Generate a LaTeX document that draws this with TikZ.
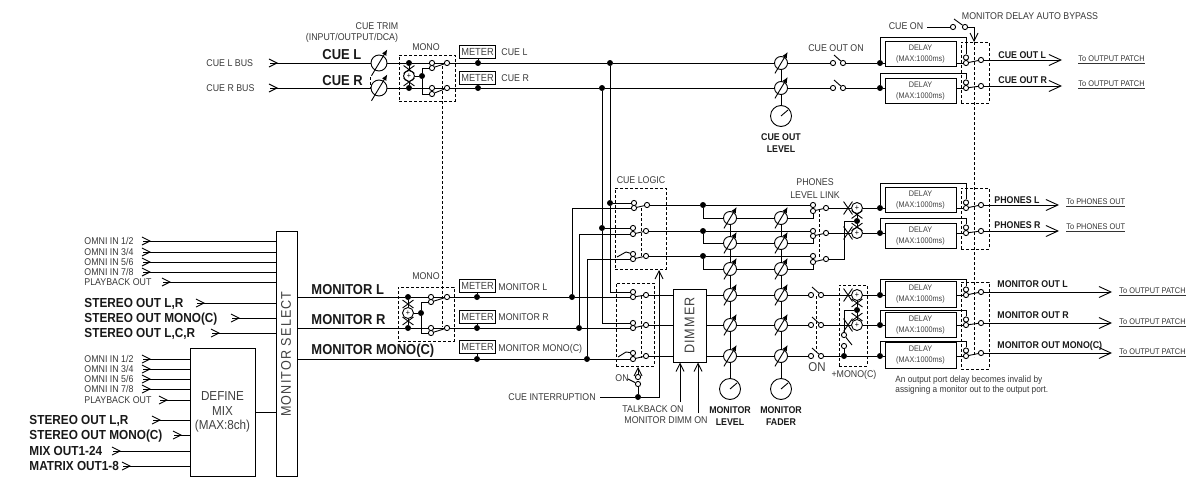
\documentclass[tikz,border=0pt]{standalone}
\usepackage{fontspec}
\setmainfont[FakeStretch=0.9]{Liberation Sans}
\newfontfamily\widefont[FakeStretch=0.9,LetterSpace=8]{Liberation Sans}
\usepackage{tikz}
\usetikzlibrary{arrows.meta, shapes.misc}

\tikzset{
    lbl/.style={font=\fontsize{9.8}{11}\selectfont, text=black!78, inner sep=0pt, text height=7pt, text depth=0pt},
    blbl/.style={font=\bfseries\fontsize{9.8}{11}\selectfont, text=black!90, inner sep=0pt, text height=7pt, text depth=0pt},
    mlbl/.style={font=\bfseries\fontsize{13.1}{14}\selectfont, text=black!90, inner sep=0pt, text height=9.4pt, text depth=0pt},
    hlbl/.style={font=\bfseries\fontsize{14.4}{15}\selectfont, text=black!90, inner sep=0pt, text height=10.3pt, text depth=0pt},
    plbl/.style={font=\fontsize{8.2}{9}\selectfont, text=black!80, inner sep=0pt},
    dot/.style={circle, fill=black, inner sep=0pt, minimum size=6pt},
    cnt/.style={circle, draw, fill=white, inner sep=0pt, minimum size=5.2pt},
    fad/.style={circle, draw, fill=white, inner sep=0pt},
    sumnode/.style={circle, draw, fill=white, inner sep=0pt, minimum size=11pt, font=\fontsize{8}{8}\selectfont},
    xv/.style={cross out, draw, inner sep=0pt, minimum width=10pt, minimum height=7pt},
    xh/.style={cross out, draw, inner sep=0pt, minimum width=8pt, minimum height=12pt},
    dbox/.style={draw, dash pattern=on 3pt off 2pt, inner sep=0pt},
    dctl/.style={dash pattern=on 3pt off 2pt},
    dly/.style={draw, line width=1pt, minimum width=71pt, minimum height=25.5pt, inner sep=0pt, align=center, text=black!75, font=\fontsize{8.1}{11}\selectfont},
    meter/.style={draw, minimum width=36pt, minimum height=13pt, inner sep=0pt, text=black!75, font=\fontsize{10.3}{11}\selectfont},
    barb/.style={-{Straight Barb[length=8pt,width=8pt]}},
    bigbarb/.style={-{Straight Barb[length=12pt,width=11pt]}},
    every path/.style={line width=0.9pt}
}

% input line with its chevron
\newcommand{\inrow}[7][lbl]{
    \node[#1, anchor=west] (#2l) at (#3,#4) {#5};
    \coordinate (#2a) at (#6,#4);
    \coordinate (#2t) at (#6+8,#4);
    \draw[barb] (#2a) -- (#2t);
    \draw (#2a) -- (#7 |- #2a);
}
% fader: size, name, x, y
\newcommand{\fader}[4][13]{
    \node[fad, minimum size=#1pt] (#2) at (#3,#4) {};
    \draw[-{Latex[length=6pt,width=5pt]}] ([shift={(-.47*#1,.8*#1)}]#2.center) -- ([shift={(.52*#1,-.85*#1)}]#2.center);
}
\newcommand{\knob}[3]{
    \node[fad, minimum size=21pt] (#1) at (#2,#3) {};
    \draw (#1.center) -- ([shift={(7,-6)}]#1.center);
}
% selector: name, x, upper y, lower y, out x, out y
\newcommand{\selsw}[6]{
    \node[cnt] (#1a) at (#2,#3) {};
    \node[cnt] (#1b) at (#2,#4) {};
    \node[cnt] (#1o) at (#5,#6) {};
    \draw (#1b) -- (#1o);
}
% on/off switch: name, x, x, y
\newcommand{\onsw}[4]{
    \node[cnt] (#1a) at (#2,#4) {};
    \node[cnt] (#1b) at (#3,#4) {};
    \draw ([shift={(1,-8)}]#1a.center) -- (#1b);
}
% delay stage: name, y, box y, bypass y, out y
\newcommand{\dlyrow}[5]{
    \node[dot] (#1d) at (880,#2) {};
    \node[dly] (#1box) at (920.5,#3) {DELAY\\(MAX:1000ms)};
    \coordinate (#1by) at (966,#4);
    \node[cnt] (#1a) at (966,#2-5.5) {};
    \node[cnt] (#1b) at (966,#2) {};
    \node[cnt] (#1o) at (981,#5) {};
    \draw (#1d) -- (#1box.west |- #1d);
    \draw (#1box.east |- #1b) -- (#1b);
    \draw (#1d) |- (#1by) -- (#1a);
    \draw (#1b) -- (#1o);
}

\begin{document}
\begin{tikzpicture}[x=1pt, y=-1pt]
    \useasboundingbox (0,0) rectangle (1198,479);

    % main boxes
    \node[draw, minimum width=21pt, minimum height=245pt, inner sep=0pt] (select) at (286.5,353.5) {};
    \node[rotate=90, inner sep=0pt, text=black!75, font=\widefont\fontsize{14}{14}\selectfont] (selecttxt) at (286,354) {MONITOR SELECT};
    \node[draw, minimum width=65pt, minimum height=128pt, inner sep=0pt, align=center, text=black!75, font=\fontsize{13}{14.5}\selectfont] (define) at (222.5,412) {DEFINE\\MIX\\(MAX:8ch)};
    \node[draw, line width=1pt, minimum width=33pt, minimum height=73pt, inner sep=0pt] (dimmer) at (689.5,325.5) {};
    \node[rotate=90, inner sep=0pt, text=black!75, font=\widefont\fontsize{14}{14}\selectfont] (dimmertxt) at (689.5,325.5) {DIMMER};

    % inputs of monitor select
    \inrow{oa}{84}{241}{OMNI IN 1/2}{143}{select.west}
    \inrow{ob}{84}{252}{OMNI IN 3/4}{143}{select.west}
    \inrow{oc}{84}{262}{OMNI IN 5/6}{143}{select.west}
    \inrow{od}{84}{272}{OMNI IN 7/8}{143}{select.west}
    \inrow{oe}{84}{282}{PLAYBACK OUT}{163}{select.west}
    \inrow[mlbl]{sa}{84}{303}{STEREO OUT L,R}{197}{select.west}
    \inrow[mlbl]{sb}{84}{318}{STEREO OUT MONO(C)}{232}{select.west}
    \inrow[mlbl]{sc}{84}{333}{STEREO OUT L,C,R}{212}{select.west}

    % inputs of define mix
    \inrow{da}{84}{359}{OMNI IN 1/2}{143}{define.west}
    \inrow{db}{84}{369}{OMNI IN 3/4}{143}{define.west}
    \inrow{dc}{84}{379}{OMNI IN 5/6}{143}{define.west}
    \inrow{dd}{84}{389}{OMNI IN 7/8}{143}{define.west}
    \inrow{de}{84}{400}{PLAYBACK OUT}{160}{define.west}
    \inrow[mlbl]{df}{29}{420}{STEREO OUT L,R}{153}{define.west}
    \inrow[mlbl]{dg}{29}{435}{STEREO OUT MONO(C)}{174}{define.west}
    \inrow[mlbl]{dh}{29}{451}{MIX OUT1-24}{113}{define.west}
    \inrow[mlbl]{di}{29}{466}{MATRIX OUT1-8}{123}{define.west}
    \draw (define.east) -- (select.west |- define.east);

    % cue input
    \fader[16]{ftl}{379}{63}
    \fader[16]{ftr}{379}{88}
    \coordinate (trima) at (370,77);
    \coordinate (trimb) at (370,88);
    \draw[dctl] (trima) -- (trimb);
    \inrow{cl}{206}{63}{CUE L BUS}{270}{ftl.west}
    \inrow{cr}{206}{88}{CUE R BUS}{270}{ftr.west}
    \node[lbl] (cuetrim) at (377,26) {CUE TRIM};
    \node[lbl] (cuetrimb) at (352,37) {(INPUT/OUTPUT/DCA)};
    \node[hlbl, anchor=west] (cuel) at (322,54) {CUE L};
    \node[hlbl, anchor=west] (cuer) at (322,80) {CUE R};

    % cue mono
    \node[dbox, minimum width=56pt, minimum height=46pt] (cmbox) at (427,78) {};
    \node[lbl] (cmlbl) at (426,47) {MONO};
    \node[dot] (cmdl) at (409,63) {};
    \node[dot] (cmdr) at (409,88) {};
    \node[sumnode] (cms) at (409,76) {+};
    \node[xv] (cmxl) at (409,69.5) {};
    \node[xv] (cmxr) at (409,82) {};
    \node[dot] (cmj) at (422,76) {};
    \selsw{cma}{432}{63}{68}{447}{63}
    \selsw{cmb}{432}{88}{94}{447}{88}
    \draw (ftl) -- (cmdl) -- (cmaa) -- (cmao);
    \draw (ftr) -- (cmdr) -- (cmba) -- (cmbo);
    \draw (cmdl) -- (cms) -- (cmdr);
    \draw (cms) -- (cmj);
    \draw (cmj) |- (cmab);
    \draw (cmj) |- (cmbb);
    \coordinate (monolinka) at (442,66);
    \coordinate (monolinkb) at (442,327);
    \draw[dctl] (monolinka) -- (monolinkb);

    % cue meters
    \node[meter] (mtcl) at (477.5,51.5) {METER};
    \node[meter] (mtcr) at (477.5,77.5) {METER};
    \node[dot] (mdcl) at (478,63) {};
    \node[dot] (mdcr) at (478,88) {};
    \node[lbl, anchor=west] (mlcl) at (501,52) {CUE L};
    \node[lbl, anchor=west] (mlcr) at (501,78) {CUE R};
    \draw (mtcl.south -| mdcl) -- (mdcl);
    \draw (mtcr.south -| mdcr) -- (mdcr);
    \node[dot] (tapl) at (610,63) {};
    \node[dot] (tapr) at (602,88) {};

    % cue out
    \fader{fcl}{781}{63}
    \fader{fcr}{781}{88}
    \knob{kc}{781}{116}
    \node[blbl] (coa) at (781,137) {CUE OUT};
    \node[blbl] (cob) at (781,149) {LEVEL};
    \onsw{sw1}{833}{843}{63}
    \onsw{sw2}{833}{843}{88}
    \node[lbl] (cuoon) at (836,48) {CUE OUT ON};
    \dlyrow{dl1}{63}{54}{37}{60}
    \dlyrow{dl2}{88}{91}{73}{86}
    \draw (cmao) -- (mdcl) -- (tapl) -- (fcl) -- (sw1a);
    \draw (cmbo) -- (mdcr) -- (tapr) -- (fcr) -- (sw2a);
    \draw (sw1b) -- (dl1d);
    \draw (sw2b) -- (dl2d);
    \draw (fcl) -- (fcr) -- (kc);

    \node[dbox, minimum width=28pt, minimum height=61pt] (obox1) at (975,72.5) {};
    \coordinate (clstart) at (927,27);
    \node[lbl] (cueon) at (906,26) {CUE ON};
    \onsw{sw0}{953}{965}{27}
    \node[lbl] (autobypass) at (1030,16) {MONITOR DELAY AUTO BYPASS};
    \coordinate (bypasstop) at (974,42);
    \coordinate (bypassbot) at (974,357);
    \draw (clstart) -- (sw0a);
    \draw[barb] (sw0b) -| (bypasstop);
    \draw[dctl] (bypasstop) -- (bypassbot);

    \coordinate (tcl) at (1062,60);
    \coordinate (tcr) at (1062,86);
    \draw[bigbarb] (dl1o) -- (tcl);
    \draw[bigbarb] (dl2o) -- (tcr);
    \node[blbl, anchor=west] (cul) at (998,55) {CUE OUT L};
    \node[blbl, anchor=west] (cur) at (998,80) {CUE OUT R};
    \node[plbl, anchor=west] (pcl) at (1078,60) {\underline{To OUTPUT PATCH}};
    \node[plbl, anchor=west] (pcr) at (1078,85) {\underline{To OUTPUT PATCH}};

    % monitor input
    \node[hlbl, anchor=west] (mnl) at (311,289) {MONITOR L};
    \node[hlbl, anchor=west] (mnr) at (311,319) {MONITOR R};
    \node[hlbl, anchor=west] (mnm) at (311,349) {MONITOR MONO(C)};
    \node[dbox, minimum width=56pt, minimum height=54pt] (mmbox) at (426,314) {};
    \node[lbl] (mmlbl) at (426,276) {MONO};
    \node[dot] (mmdl) at (408,297) {};
    \node[dot] (mmdr) at (408,328) {};
    \node[sumnode] (mms) at (408,313) {+};
    \node[xv] (mmxl) at (408,304) {};
    \node[xv] (mmxr) at (408,321) {};
    \node[dot] (mmj) at (421,313) {};
    \selsw{mma}{431}{297}{302}{447}{297}
    \selsw{mmb}{431}{328}{333}{447}{328}
    \draw (select.east |- mmdl) -- (mmdl) -- (mmaa) -- (mmao);
    \draw (select.east |- mmdr) -- (mmdr) -- (mmba) -- (mmbo);
    \draw (mmdl) -- (mms) -- (mmdr);
    \draw (mms) -- (mmj);
    \draw (mmj) |- (mmab);
    \draw (mmj) |- (mmbb);

    % monitor meters
    \node[meter] (mtl) at (477.5,285.5) {METER};
    \node[meter] (mtr) at (477.5,316.5) {METER};
    \node[meter] (mtm) at (477.5,347) {METER};
    \node[dot] (mdl) at (477,297) {};
    \node[dot] (mdr) at (477,328) {};
    \node[dot] (mdm) at (477,359) {};
    \node[lbl, anchor=west] (mll) at (498,287) {MONITOR L};
    \node[lbl, anchor=west] (mlr) at (498,317) {MONITOR R};
    \node[lbl, anchor=west] (mlm) at (498,348) {MONITOR MONO(C)};
    \draw (mtl.south -| mdl) -- (mdl);
    \draw (mtr.south -| mdr) -- (mdr);
    \draw (mtm.south -| mdm) -- (mdm);
    \node[dot] (tml) at (572,297) {};
    \node[dot] (tmr) at (579,328) {};
    \node[dot] (tmm) at (587,359) {};
    \draw (mmao) -- (mdl) -- (tml);
    \draw (mmbo) -- (mdr) -- (tmr);
    \draw (select.east |- mdm) -- (mdm) -- (tmm);

    % cue logic
    \node[dbox, minimum width=51pt, minimum height=81pt] (cuelogic) at (640.5,228.5) {};
    \node[lbl] (cllbl) at (641,180) {CUE LOGIC};
    \selsw{ua}{634}{203}{208}{647}{205}
    \selsw{ub}{633}{228}{234}{646}{231}
    \selsw{uc}{633}{254}{259}{646}{256}
    \node[dot] (jua) at (610,203) {};
    \node[dot] (jub) at (602,228) {};
    \draw (jua) -- (uaa);
    \draw (jub) -- (uba);
    \draw (tml) |- (uab);
    \draw (tmr) |- (ubb);
    \draw (tmm) |- (ucb);
    \coordinate (ucsa) at (617,257);
    \coordinate (ucsb) at (626,252);
    \draw (ucsa) -- (ucsb) -- (uca);
    \coordinate (logictopa) at (641,208);
    \coordinate (logictopb) at (641,258);
    \draw[dctl] (logictopa) -- (logictopb);

    % monitor selector before the dimmer
    \node[dbox, minimum width=38pt, minimum height=83pt] (lowbox) at (635,324.5) {};
    \selsw{la}{633}{292}{297}{646}{295}
    \selsw{lb}{633}{323}{328}{646}{325}
    \selsw{lc}{633}{353}{359}{646}{356}
    \draw (tapl) -- (jua) |- (laa);
    \draw (tapr) -- (jub) |- (lba);
    \draw (tml) -- (lab);
    \draw (tmr) -- (lbb);
    \draw (tmm) -- (lcb);
    \coordinate (lcsa) at (618,357);
    \coordinate (lcsb) at (626,352);
    \draw (lcsa) -- (lcsb) -- (lca);
    \coordinate (lowlinka) at (641,296);
    \coordinate (lowlinkb) at (641,358);
    \draw[dctl] (lowlinka) -- (lowlinkb);

    % cue interruption
    \node[lbl, anchor=west] (cueint) at (508,397) {CUE INTERRUPTION};
    \coordinate (cistart) at (600,397);
    \node[dot] (cij) at (638,397) {};
    \node[cnt] (cionb) at (638,384) {};
    \node[cnt] (ciona) at (638,377) {};
    \coordinate (citop) at (638,367);
    \coordinate (ciarm) at (628,379);
    \coordinate (citip) at (659,270);
    \node[lbl] (cionlbl) at (622,378) {ON};
    \draw (cistart) -- (cij);
    \draw[barb] (cij) -| (citip);
    \draw (cij) -- (cionb);
    \draw (ciarm) -- (cionb);
    \draw[barb] (ciona) -- (citop);

    % dimmer controls
    \coordinate (tbk) at (680,402);
    \coordinate (dmm) at (698,413);
    \draw[barb] (tbk) -- (tbk |- dimmer.south);
    \draw[barb] (dmm) -- (dmm |- dimmer.south);
    \node[lbl] (tbklbl) at (653,409) {TALKBACK ON};
    \node[lbl, anchor=west] (dmmlbl) at (624,420) {MONITOR DIMM ON};

    % faders
    \fader{pfa}{730}{218}
    \fader{pfb}{730}{243}
    \fader{pfc}{730}{269}
    \fader{pfd}{730}{295}
    \fader{pfe}{730}{325}
    \fader{pff}{730}{356}
    \fader{qfa}{781}{218}
    \fader{qfb}{781}{243}
    \fader{qfc}{781}{269}
    \fader{qfd}{781}{295}
    \fader{qfe}{781}{325}
    \fader{qff}{781}{356}
    \knob{kl}{730}{389}
    \knob{kf}{781}{389}
    \node[blbl] (lvla) at (730,410) {MONITOR};
    \node[blbl] (lvlb) at (730,422) {LEVEL};
    \node[blbl] (fdra) at (781,410) {MONITOR};
    \node[blbl] (fdrb) at (781,422) {FADER};
    \draw (pfa) -- (pfb) -- (pfc) -- (pfd) -- (pfe) -- (pff) -- (kl);
    \draw (qfa) -- (qfb) -- (qfc) -- (qfd) -- (qfe) -- (qff) -- (kf);

    % phones
    \node[dot] (pja) at (703,205) {};
    \node[dot] (pjb) at (703,231) {};
    \node[dot] (pjc) at (703,256) {};
    \selsw{pha}{813}{205}{211}{826}{208}
    \selsw{phb}{813}{231}{236}{826}{233}
    \selsw{phc}{813}{256}{262}{826}{259}
    \draw (uao) -- (pja) -- (phaa);
    \draw (ubo) -- (pjb) -- (phba);
    \draw (uco) -- (pjc) -- (phca);
    \draw (pja) |- (pfa) (pfa) -- (qfa) (qfa) -| (phab);
    \draw (pjb) |- (pfb) (pfb) -- (qfb) (qfb) -| (phbb);
    \draw (pjc) |- (pfc) (pfc) -- (qfc) (qfc) -| (phcb);
    \node[lbl] (plla) at (815,182) {PHONES};
    \node[lbl] (pllb) at (815,195) {LEVEL LINK};
    \coordinate (pllink) at (819,209);
    \coordinate (pllinkb) at (819,258);
    \draw[dctl] (pllink) -- (pllinkb);
    \node[sumnode] (psa) at (857,208) {+};
    \node[sumnode] (psb) at (857,233) {+};
    \node[dot] (psj) at (857,221) {};
    \node[xh] (psxa) at (848,208) {};
    \node[xh] (psxb) at (848,233) {};
    \node[xv] (psxc) at (857,214.5) {};
    \node[xv] (psxd) at (857,227) {};
    \coordinate (psl) at (844,221);
    \draw (psa) -- (psj) -- (psb);
    \draw (phao) -- (psa);
    \draw (phbo) -- (psb);
    \draw (phco) -| (psl) -- (psj);
    \dlyrow{dl3}{208}{200}{183}{205}
    \dlyrow{dl4}{233}{236}{218}{231}
    \draw (psa) -- (dl3d);
    \draw (psb) -- (dl4d);
    \node[dbox, minimum width=28pt, minimum height=61pt] (obox2) at (975,218.5) {};
    \coordinate (tpl) at (1059,205);
    \coordinate (tpr) at (1059,231);
    \draw[bigbarb] (dl3o) -- (tpl);
    \draw[bigbarb] (dl4o) -- (tpr);
    \node[blbl, anchor=west] (phl) at (994,200) {PHONES L};
    \node[blbl, anchor=west] (phr) at (994,225) {PHONES R};
    \node[plbl, anchor=west] (ppl) at (1066,203) {\underline{To PHONES OUT}};
    \node[plbl, anchor=west] (ppr) at (1066,228) {\underline{To PHONES OUT}};

    % monitor out
    \onsw{on1}{811}{821}{295}
    \onsw{on2}{811}{821}{325}
    \onsw{on3}{811}{821}{356}
    \node[font=\fontsize{12.8}{13}\selectfont, inner sep=0pt, text=black!75] (onlbl) at (817,367) {ON};
    \coordinate (onlinka) at (816,296);
    \coordinate (onlinkb) at (816,352);
    \draw[dctl] (onlinka) -- (onlinkb);
    \draw (lao) -- (dimmer.west |- lao);
    \draw (lbo) -- (dimmer.west |- lbo);
    \draw (lco) -- (dimmer.west |- lco);
    \draw (dimmer.east |- pfd) -- (pfd) -- (qfd) -- (on1a);
    \draw (dimmer.east |- pfe) -- (pfe) -- (qfe) -- (on2a);
    \draw (dimmer.east |- pff) -- (pff) -- (qff) -- (on3a);
    \node[dbox, minimum width=28pt, minimum height=81pt] (monobox) at (853,325.5) {};
    \node[lbl] (monolbl) at (854,374) {+MONO(C)};
    \node[sumnode] (msa) at (857,295) {+};
    \node[sumnode] (msb) at (857,325) {+};
    \node[dot] (msj) at (857,310) {};
    \node[xh] (msxa) at (848,295) {};
    \node[xh] (msxb) at (848,325) {};
    \node[xv] (msxc) at (857,303) {};
    \node[xv] (msxd) at (857,317) {};
    \coordinate (msl) at (844,310);
    \node[cnt] (mca) at (844,335) {};
    \node[cnt] (mcb) at (844,346) {};
    \node[dot] (mcd) at (844,356) {};
    \coordinate (mcarm) at (852,345);
    \draw (mcarm) -- (mca);
    \draw (msa) -- (msj) -- (msb);
    \draw (msj) -- (msl) -- (mca);
    \draw (mcb) -- (mcd);
    \draw (on1b) -- (msa);
    \draw (on2b) -- (msb);
    \draw (on3b) -- (mcd);
    \dlyrow{dl5}{295}{294.5}{279}{292}
    \dlyrow{dl6}{325}{325}{310}{323}
    \dlyrow{dl7}{356}{355.5}{341}{353}
    \draw (msa) -- (dl5d);
    \draw (msb) -- (dl6d);
    \draw (mcd) -- (dl7d);
    \node[dbox, minimum width=28pt, minimum height=87pt] (obox3) at (975,325.5) {};
    \coordinate (tma) at (1112,292);
    \coordinate (tmb) at (1112,323);
    \coordinate (tmc) at (1112,353);
    \draw[bigbarb] (dl5o) -- (tma);
    \draw[bigbarb] (dl6o) -- (tmb);
    \draw[bigbarb] (dl7o) -- (tmc);
    \node[blbl, anchor=west] (mol) at (997,284) {MONITOR OUT L};
    \node[blbl, anchor=west] (mor) at (997,315) {MONITOR OUT R};
    \node[blbl, anchor=west] (mom) at (997,345) {MONITOR OUT MONO(C)};
    \node[plbl, anchor=west] (pma) at (1119,292) {\underline{To OUTPUT PATCH}};
    \node[plbl, anchor=west] (pmb) at (1119,323) {\underline{To OUTPUT PATCH}};
    \node[plbl, anchor=west] (pmc) at (1119,353) {\underline{To OUTPUT PATCH}};
    \node[lbl, anchor=west, font=\fontsize{9.2}{10}\selectfont] (notea) at (895,379) {An output port delay becomes invalid by};
    \node[lbl, anchor=west, font=\fontsize{9.2}{10}\selectfont] (noteb) at (895,389) {assigning a monitor out to the output port.};
\end{tikzpicture}
\end{document}
